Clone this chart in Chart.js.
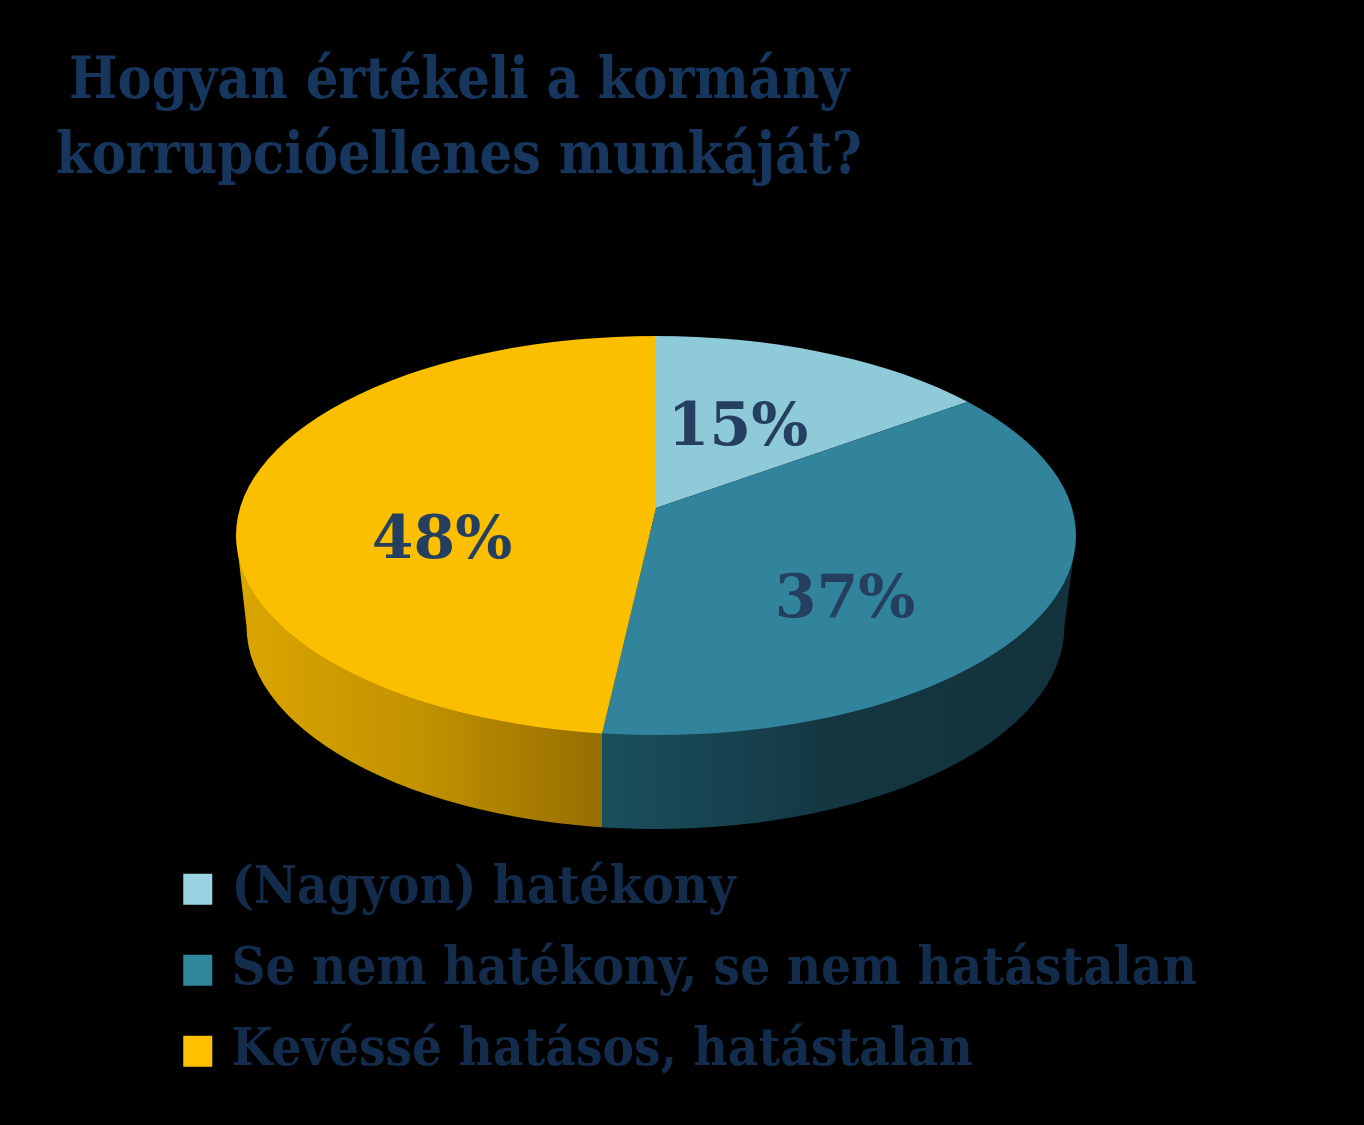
<!DOCTYPE html>
<html>
<head>
<meta charset="utf-8">
<title>Kormány korrupcióellenes munkája</title>
<script src="https://cdn.jsdelivr.net/npm/chart.js@4"></script>
<style>
  html, body { margin:0; padding:0; background:#000; }
  canvas { display:block; }
</style>
</head>
<body>
<canvas id="pie" width="1364" height="1125"></canvas>
<script>
// chart data (the slices sit a touch off the rounded labels in the picture)
const categories = ['(Nagyon) hatékony', 'Se nem hatékony, se nem hatástalan', 'Kevéssé hatásos, hatástalan'];
const shares = [15.1, 36.7, 48.2];
const titleLines = ['Hogyan értékeli a kormány', 'korrupcióellenes munkáját?'];

// colours
const faceColors = ['#8fcad9', '#31849b', '#fbbf00'];
const swatchColors = ['#99d3e2', '#31859c', '#ffc000'];
const wallStops = [null, ['#1a4f5e', '#143641', '#12333d'], ['#dba600', '#c29200', '#966e00']];
const serif = '"DejaVu Serif Condensed", "DejaVu Serif", serif';

// the tilted disc: slices fan out from the apex, the rim is clipped by the top ellipse
const apex = { x:656, y:508, squash:0.475, reach:520 };
const topRim = { cx:656, cy:535.5, rx:420, ry:199.5 };
const baseRim = { cx:655.5, cy:626, rx:409, ry:203 };
const labelSpots = [[738, 445], [845, 617], [442, 558]];

// where the ray of a slice edge leaves the top ellipse
function rimPoint(angle){
  const dx = Math.sin(angle), dy = -Math.cos(angle) * apex.squash;
  const ox = apex.x - topRim.cx, oy = apex.y - topRim.cy;
  const rx2 = topRim.rx * topRim.rx, ry2 = topRim.ry * topRim.ry;
  const a = dx*dx/rx2 + dy*dy/ry2;
  const b = 2 * (ox*dx/rx2 + oy*dy/ry2);
  const c = ox*ox/rx2 + oy*oy/ry2 - 1;
  const t = (-b + Math.sqrt(b*b - 4*a*c)) / (2*a);
  return { x: apex.x + t*dx, y: apex.y + t*dy };
}

function wallLimit(angle){
  const p = rimPoint(angle);
  if (p.y > topRim.cy) return p.x;
  return angle < Math.PI ? topRim.cx + topRim.rx : topRim.cx - topRim.rx;
}

function drawWalls(chart){
  const ctx = chart.ctx;
  chart.getDatasetMeta(0).data.forEach((arc, i) => {
    const stops = wallStops[i];
    if (!stops) return;
    const x0 = wallLimit(arc.startAngle + Math.PI/2);
    const x1 = wallLimit(arc.endAngle + Math.PI/2);
    const left = Math.min(x0, x1), right = Math.max(x0, x1);
    const grad = ctx.createLinearGradient(left, 0, right, 0);
    stops.forEach((c, n) => grad.addColorStop(n / (stops.length - 1), c));
    ctx.save();
    ctx.beginPath();
    ctx.rect(left, 0, right - left, chart.height);
    ctx.clip();
    ctx.beginPath();
    ctx.moveTo(topRim.cx - topRim.rx, topRim.cy);
    ctx.lineTo(baseRim.cx - baseRim.rx, baseRim.cy);
    ctx.ellipse(baseRim.cx, baseRim.cy, baseRim.rx, baseRim.ry, 0, Math.PI, 0, true);
    ctx.lineTo(topRim.cx + topRim.rx, topRim.cy);
    ctx.closePath();
    ctx.fillStyle = grad;
    ctx.fill();
    ctx.restore();
  });
}

const tiltedPie = {
  id:'tiltedPie',
  afterLayout(chart){
    // title is centred over the left part of the page
    chart.titleBlock.left = 0;
    chart.titleBlock.right = 918;
  },
  beforeDatasetsDraw(chart){
    const ctx = chart.ctx;
    drawWalls(chart);
    const arc = chart.getDatasetMeta(0).data[0];
    const k = apex.reach / arc.outerRadius;
    ctx.save();
    ctx.beginPath();
    ctx.ellipse(topRim.cx, topRim.cy, topRim.rx, topRim.ry, 0, 0, Math.PI*2);
    ctx.clip();
    ctx.translate(apex.x, apex.y);
    ctx.scale(k, k * apex.squash);
    ctx.translate(-arc.x, -arc.y);
  },
  afterDatasetsDraw(chart){
    const ctx = chart.ctx;
    ctx.restore();
    ctx.save();
    ctx.font = 'bold 60px "DejaVu Serif", serif';
    ctx.fillStyle = '#243f60';
    ctx.textAlign = 'center';
    ctx.textBaseline = 'alphabetic';
    shares.forEach((v, i) => ctx.fillText(Math.round(v) + '%', labelSpots[i][0], labelSpots[i][1]));
    ctx.restore();
  }
};

new Chart(document.getElementById('pie').getContext('2d'), {
  type:'pie',
  data:{ labels:categories, datasets:[{ data:shares, backgroundColor:faceColors, borderWidth:0, clip:false }] },
  plugins:[tiltedPie],
  options:{
    responsive:false,
    animation:false,
    layout:{ padding:{ left:161.75, bottom:19, top:0, right:0 } },
    plugins:{
      tooltip:{ enabled:false },
      title:{
        display:true,
        text:titleLines,
        color:'#17365d',
        font:{ family:serif, size:57, weight:'bold', lineHeight:1.316 },
        padding:{ top:46, bottom:0 }
      },
      legend:{
        position:'left',
        align:'end',
        maxWidth:1180,
        labels:{
          color:'#132c4b',
          font:{ family:serif, size:52.5, weight:'bold' },
          // small box plus a thick border, so the text sits closer to the swatch
          boxWidth:15,
          boxHeight:17,
          padding:28.5,
          generateLabels:() => categories.map((c, i) => ({
            text:c, fillStyle:swatchColors[i], strokeStyle:swatchColors[i], fontColor:'#132c4b', lineWidth:14, hidden:false, index:i
          }))
        }
      }
    }
  }
});
</script>
</body>
</html>
